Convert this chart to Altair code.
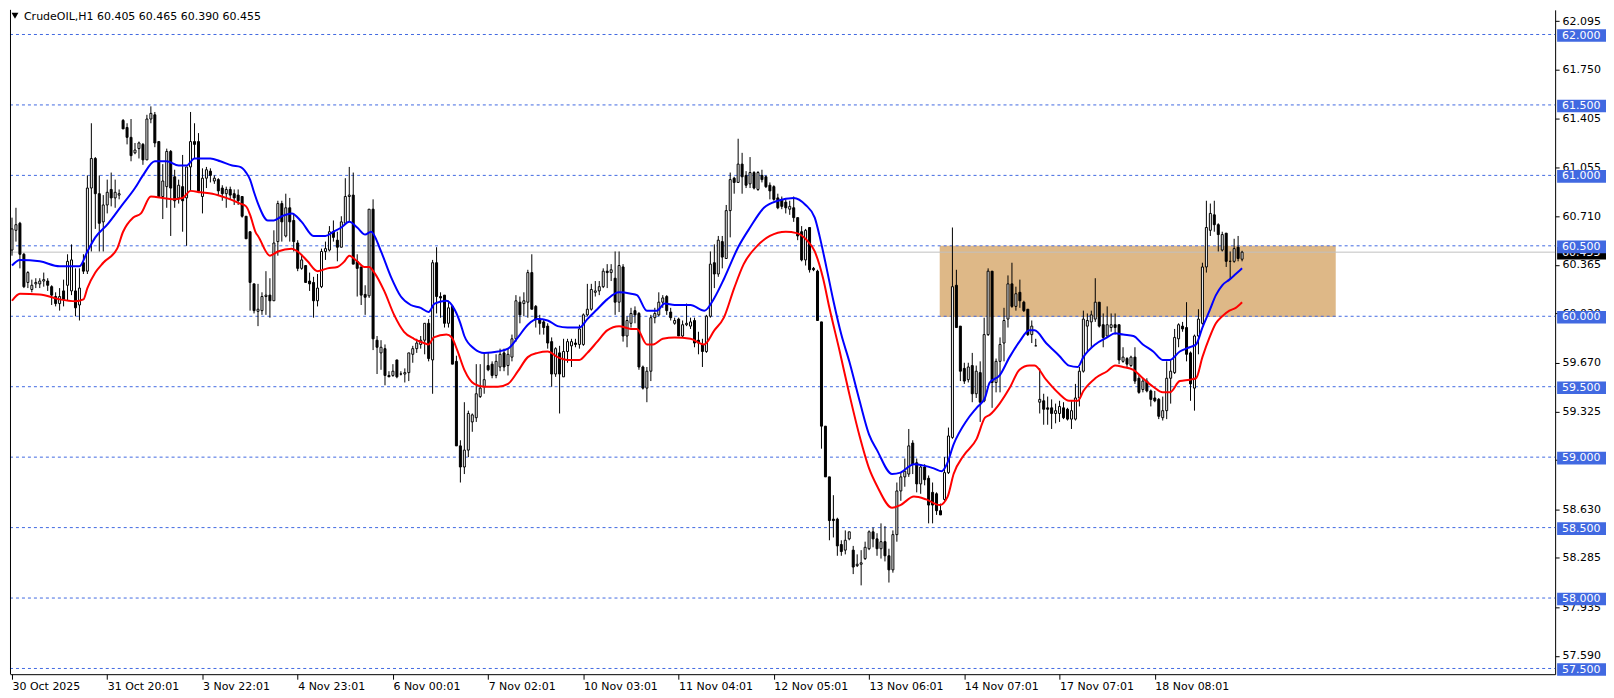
import altair as alt
import pandas as pd

# ---------------- data ----------------
OPEN = [
    60.47, 60.61, 60.66, 60.44, 60.24, 60.19, 60.23, 60.23, 60.25, 60.25,
    60.21, 60.14, 60.09, 60.18, 60.22, 60.18, 60.18, 60.08, 60.38, 60.32,
    60.91, 61.12, 60.87, 60.67, 60.79, 60.90, 60.84, 60.86, 61.39, 61.34,
    61.27, 61.16, 61.19, 61.22, 61.11, 61.40, 61.43, 61.24, 60.85, 60.92,
    61.17, 60.99, 60.84, 60.92, 60.84, 61.06, 61.24, 61.24, 60.85, 60.98,
    61.03, 60.96, 60.97, 60.91, 60.87, 60.90, 60.87, 60.86, 60.85, 60.71,
    60.60, 60.23, 60.035, 60.04, 60.14, 60.15, 60.11, 60.53, 60.80, 60.57,
    60.77, 60.68, 60.52, 60.34, 60.36, 60.25, 60.24, 60.11, 60.21, 60.46,
    60.47, 60.60, 60.54, 60.49, 60.66, 60.85, 60.86, 60.39, 60.35, 60.155,
    60.145, 60.76, 59.83, 59.74, 59.77, 59.58, 59.58, 59.69, 59.59, 59.59,
    59.60, 59.73, 59.77, 59.80, 59.83, 59.95, 59.69, 60.38, 60.14, 60.15,
    59.95, 60.07, 59.68, 59.08, 58.93, 59.05, 59.25, 59.28, 59.43, 59.50,
    59.65, 59.66, 59.58, 59.64, 59.74, 59.65, 59.71, 59.84, 60.10, 60.09,
    60.10, 60.31, 60.07, 59.98, 59.96, 59.93, 59.82, 59.59, 59.74, 59.57,
    59.75, 59.79, 59.81, 59.80, 59.80, 60.01, 60.05, 60.17, 60.18, 60.21,
    60.32, 60.31, 60.27, 60.10, 60.35, 59.86, 59.95, 60.04, 60.02, 59.64,
    59.49, 59.61, 59.99, 60.01, 60.10, 60.14, 60.03, 59.95, 59.98, 59.86,
    59.94, 59.93, 59.97, 59.83, 59.80, 59.75, 60.00, 60.38, 60.30, 60.53,
    60.41, 60.75, 60.98, 60.95, 61.08, 61.00, 60.94, 61.02, 60.90, 61.00,
    60.99, 60.93, 60.92, 60.84, 60.83, 60.81, 60.76, 60.77, 60.70, 60.60,
    60.40, 60.63, 60.34, 60.32, 59.96, 59.22, 58.86, 58.56, 58.56, 58.38,
    58.34, 58.42, 58.34, 58.23, 58.24, 58.28, 58.35, 58.47, 58.42, 58.35,
    58.40, 58.30, 58.20, 58.45, 58.76, 58.86, 58.88, 59.10, 58.96, 58.81,
    58.93, 58.85, 58.75, 58.74, 58.62, 58.70, 58.89, 59.14, 60.22, 59.93,
    59.63, 59.55, 59.65, 59.45, 59.60, 59.40, 59.87, 60.32, 59.53, 59.68,
    59.81, 59.98, 60.23, 60.07, 60.17, 60.10, 60.05, 59.87, 59.79, 59.39,
    59.40, 59.35, 59.35, 59.31, 59.31, 59.35, 59.34, 59.27, 59.27, 59.42,
    59.61, 59.93, 59.96, 59.98, 60.10, 59.94, 59.86, 59.92, 59.94, 59.94,
    59.68, 59.70, 59.65, 59.71, 59.56, 59.48, 59.54, 59.47, 59.42, 59.41,
    59.28, 59.33, 59.56, 59.60, 59.84, 59.93, 59.92, 59.74, 59.49, 59.86,
    59.95, 60.35, 60.61, 60.72, 60.65, 60.47, 60.59, 60.39, 60.39, 60.49,
    60.405,
]
HIGH = [
    60.70, 60.77, 60.67, 60.45, 60.32, 60.26, 60.27, 60.27, 60.31, 60.27,
    60.22, 60.17, 60.20, 60.26, 60.44, 60.51, 60.34, 60.34, 60.44, 61.00,
    61.37, 61.13, 61.00, 60.86, 60.97, 61.02, 60.97, 60.90, 61.40, 61.37,
    61.40, 61.23, 61.24, 61.23, 61.43, 61.49, 61.45, 61.24, 61.08, 61.19,
    61.18, 61.04, 60.97, 61.145, 61.06, 61.45, 61.37, 61.30, 61.05, 61.06,
    61.05, 61.00, 60.98, 60.93, 60.92, 60.92, 60.90, 60.90, 60.85, 60.71,
    60.60, 60.23, 60.23, 60.17, 60.32, 60.27, 60.61, 60.82, 60.82, 60.87,
    60.84, 60.73, 60.54, 60.44, 60.36, 60.31, 60.28, 60.30, 60.48, 60.53,
    60.64, 60.68, 60.60, 60.71, 60.98, 61.06, 61.02, 60.44, 60.35, 60.22,
    60.76, 60.83, 59.86, 59.83, 59.80, 59.61, 59.66, 59.69, 59.61, 59.63,
    59.74, 59.79, 59.84, 59.86, 59.95, 59.98, 60.40, 60.49, 60.17, 60.15,
    60.11, 60.07, 59.72, 59.12, 59.39, 59.33, 59.31, 59.66, 59.66, 59.74,
    59.74, 59.68, 59.73, 59.77, 59.77, 59.77, 59.87, 60.15, 60.14, 60.17,
    60.33, 60.44, 60.08, 60.01, 59.98, 59.95, 59.85, 59.78, 59.79, 59.84,
    59.84, 59.84, 59.84, 59.94, 60.02, 60.23, 60.23, 60.25, 60.25, 60.34,
    60.37, 60.37, 60.46, 60.46, 60.37, 60.00, 60.06, 60.07, 60.03, 59.65,
    59.64, 60.01, 60.06, 60.17, 60.15, 60.15, 60.06, 59.99, 59.99, 59.97,
    60.09, 59.99, 59.99, 59.89, 59.84, 60.01, 60.46, 60.51, 60.57, 60.57,
    60.79, 61.02, 60.99, 61.26, 61.16, 61.03, 61.13, 61.03, 61.03, 61.04,
    61.00, 60.95, 60.93, 60.87, 60.85, 60.83, 60.82, 60.85, 60.70, 60.64,
    60.62, 60.63, 60.35, 60.33, 59.96, 59.22, 58.86, 58.73, 58.57, 58.41,
    58.48, 58.47, 58.37, 58.31, 58.34, 58.40, 58.48, 58.50, 58.46, 58.53,
    58.51, 58.35, 58.48, 58.82, 58.89, 58.99, 59.20, 59.12, 58.99, 58.95,
    58.95, 58.87, 58.82, 58.75, 58.67, 59.00, 59.21, 60.63, 60.33, 59.93,
    59.67, 59.67, 59.74, 59.65, 59.68, 59.99, 60.34, 60.32, 59.70, 59.85,
    60.06, 60.29, 60.38, 60.21, 60.26, 60.11, 60.05, 59.97, 59.84, 59.63,
    59.45, 59.43, 59.41, 59.38, 59.40, 59.39, 59.35, 59.40, 59.52, 59.64,
    60.04, 60.02, 60.04, 60.27, 60.10, 60.02, 60.07, 60.02, 60.02, 59.94,
    59.78, 59.71, 59.72, 59.78, 59.59, 59.56, 59.56, 59.48, 59.47, 59.42,
    59.43, 59.68, 59.69, 59.91, 59.95, 59.96, 60.10, 59.75, 59.87, 60.05,
    60.38, 60.82, 60.80, 60.82, 60.66, 60.60, 60.59, 60.46, 60.55, 60.57,
    60.465,
]
LOW = [
    60.43, 60.53, 60.34, 60.20, 60.20, 60.17, 60.20, 60.20, 60.21, 60.18,
    60.08, 60.07, 60.04, 60.07, 60.11, 60.15, 60.00, 59.97, 60.30, 60.30,
    60.46, 60.62, 60.46, 60.46, 60.73, 60.78, 60.77, 60.83, 61.33, 61.22,
    61.10, 61.15, 61.12, 61.075, 61.11, 61.37, 61.20, 60.85, 60.69, 60.77,
    60.57, 60.77, 60.80, 60.60, 60.50, 60.89, 61.12, 60.89, 60.73, 60.91,
    60.95, 60.94, 60.86, 60.82, 60.77, 60.83, 60.79, 60.79, 60.70, 60.55,
    60.04, 60.02, 59.93, 60.01, 60.01, 59.99, 60.11, 60.43, 60.53, 60.56,
    60.53, 60.46, 60.32, 60.33, 60.24, 60.18, 59.99, 60.07, 60.20, 60.40,
    60.46, 60.53, 60.39, 60.49, 60.66, 60.67, 60.37, 60.14, 60.08, 60.01,
    60.13, 59.76, 59.59, 59.62, 59.51, 59.57, 59.57, 59.56, 59.58, 59.53,
    59.54, 59.67, 59.74, 59.77, 59.73, 59.68, 59.45, 60.02, 59.99, 59.92,
    59.92, 59.66, 59.08, 58.82, 58.88, 59.00, 59.18, 59.25, 59.42, 59.45,
    59.61, 59.56, 59.56, 59.61, 59.61, 59.58, 59.68, 59.82, 59.95, 60.00,
    59.99, 60.05, 59.92, 59.87, 59.87, 59.77, 59.50, 59.57, 59.31, 59.57,
    59.67, 59.64, 59.78, 59.77, 59.79, 60.00, 60.04, 60.14, 60.15, 60.20,
    60.20, 60.25, 60.01, 60.03, 59.82, 59.78, 59.92, 59.95, 59.62, 59.48,
    59.39, 59.54, 59.95, 60.00, 60.06, 60.01, 59.97, 59.94, 59.86, 59.85,
    59.93, 59.91, 59.78, 59.73, 59.64, 59.74, 59.99, 60.20, 60.28, 60.34,
    60.41, 60.56, 60.87, 60.95, 60.87, 60.91, 60.91, 60.90, 60.89, 60.95,
    60.91, 60.83, 60.82, 60.76, 60.76, 60.73, 60.72, 60.67, 60.54, 60.39,
    60.36, 60.31, 60.32, 59.97, 59.06, 58.86, 58.41, 58.43, 58.30, 58.30,
    58.31, 58.41, 58.17, 58.22, 58.09, 58.27, 58.34, 58.36, 58.30, 58.28,
    58.26, 58.11, 58.18, 58.40, 58.69, 58.79, 58.86, 58.88, 58.75, 58.74,
    58.80, 58.53, 58.53, 58.59, 58.59, 58.69, 58.88, 59.13, 59.92, 59.54,
    59.52, 59.53, 59.39, 59.42, 59.25, 59.39, 59.86, 59.35, 59.46, 59.46,
    59.68, 59.92, 60.06, 60.04, 60.06, 60.03, 59.86, 59.81, 59.79, 59.31,
    59.23, 59.23, 59.20, 59.24, 59.25, 59.27, 59.26, 59.20, 59.26, 59.36,
    59.60, 59.75, 59.78, 59.96, 59.92, 59.78, 59.85, 59.89, 59.87, 59.66,
    59.67, 59.64, 59.64, 59.52, 59.45, 59.46, 59.46, 59.36, 59.39, 59.27,
    59.26, 59.27, 59.38, 59.59, 59.78, 59.89, 59.68, 59.40, 59.33, 59.73,
    59.94, 60.31, 60.57, 60.60, 60.46, 60.46, 60.35, 60.26, 60.38, 60.39,
    60.39,
]
CLOSE = [
    60.62, 60.65, 60.44, 60.21, 60.31, 60.22, 60.24, 60.25, 60.26, 60.22,
    60.15, 60.09, 60.14, 60.12, 60.39, 60.40, 60.06, 60.20, 60.32, 60.91,
    61.12, 60.87, 60.66, 60.79, 60.88, 60.84, 60.88, 60.87, 61.33, 61.27,
    61.14, 61.18, 61.23, 61.11, 61.40, 61.44, 61.23, 60.85, 60.96, 61.17,
    60.91, 60.82, 60.93, 60.82, 61.06, 61.24, 61.22, 60.89, 60.98, 61.04,
    61.00, 60.98, 60.89, 60.87, 60.90, 60.86, 60.84, 60.82, 60.71, 60.55,
    60.24, 60.04, 60.05, 60.14, 60.15, 60.11, 60.52, 60.80, 60.67, 60.77,
    60.67, 60.53, 60.34, 60.40, 60.24, 60.23, 60.11, 60.20, 60.46, 60.48,
    60.60, 60.56, 60.49, 60.67, 60.85, 60.86, 60.37, 60.34, 60.15, 60.135,
    60.76, 59.84, 59.78, 59.78, 59.58, 59.57, 59.61, 59.57, 59.59, 59.60,
    59.74, 59.77, 59.81, 59.83, 59.95, 59.70, 60.38, 60.14, 60.13, 59.95,
    60.06, 59.66, 59.08, 58.93, 59.05, 59.31, 59.30, 59.45, 59.49, 59.55,
    59.62, 59.58, 59.68, 59.73, 59.64, 59.73, 59.84, 60.11, 60.01, 60.11,
    60.31, 60.05, 59.98, 59.95, 59.92, 59.81, 59.59, 59.77, 59.59, 59.75,
    59.82, 59.82, 59.80, 59.91, 60.01, 60.05, 60.19, 60.18, 60.21, 60.32,
    60.31, 60.33, 60.10, 60.36, 59.86, 59.97, 60.02, 60.01, 59.64, 59.49,
    59.61, 59.99, 60.02, 60.10, 60.13, 60.04, 59.99, 59.97, 59.86, 59.94,
    59.95, 59.96, 59.81, 59.81, 59.75, 60.00, 60.37, 60.30, 60.54, 60.42,
    60.75, 60.97, 60.95, 61.08, 60.99, 60.93, 61.02, 60.91, 61.02, 60.97,
    60.92, 60.89, 60.83, 60.77, 60.78, 60.77, 60.78, 60.70, 60.57, 60.40,
    60.61, 60.33, 60.33, 59.97, 59.22, 58.86, 58.55, 58.55, 58.37, 58.33,
    58.41, 58.47, 58.22, 58.24, 58.25, 58.36, 58.47, 58.42, 58.35, 58.40,
    58.30, 58.20, 58.45, 58.76, 58.86, 58.90, 59.08, 58.95, 58.81, 58.93,
    58.84, 58.66, 58.66, 58.62, 58.59, 58.89, 59.15, 60.21, 59.92, 59.61,
    59.54, 59.64, 59.45, 59.61, 59.39, 59.87, 60.32, 59.53, 59.68, 59.80,
    59.97, 60.23, 60.07, 60.16, 60.11, 60.04, 59.87, 59.93, 59.79, 59.41,
    59.34, 59.34, 59.31, 59.33, 59.36, 59.28, 59.27, 59.33, 59.42, 59.61,
    59.98, 59.97, 60.01, 60.10, 59.93, 59.85, 59.94, 59.94, 59.92, 59.69,
    59.71, 59.66, 59.71, 59.54, 59.46, 59.54, 59.47, 59.41, 59.40, 59.29,
    59.33, 59.56, 59.61, 59.85, 59.94, 59.91, 59.73, 59.52, 59.86, 59.98,
    60.35, 60.63, 60.73, 60.65, 60.58, 60.58, 60.39, 60.39, 60.48, 60.41,
    60.455,
]

BLUE_BAR = [0, 2, 7, 12, 17, 19, 21, 24, 27.5, 31, 33, 36, 39, 42, 44, 46, 50, 52.5, 55.5, 57.5,
            59, 60, 61, 62, 64.5, 66, 68, 70.5, 73, 76, 79, 81, 83, 85, 87, 89, 90.5, 93, 95.5, 98,
            100.5, 103, 105, 106.5, 109.5, 111.5, 113, 114, 116.5, 119, 122.5, 125, 127.5, 130, 132.5,
            135, 137.5, 140, 143, 145, 147.5, 150, 153, 156, 157.5, 160, 162.5, 164.5, 167, 171, 174.5,
            177, 179.5, 183, 186, 189.5, 193, 197, 200, 202.3, 203.6, 205.3, 207, 209, 211, 213.6, 216,
            218, 221.8, 223.9, 227.3, 229.8, 232.3, 234.3, 235.6, 237.3, 240.6, 243.1, 245.2, 246.4,
            248.9, 251.4, 253.9, 256.4, 257.7, 260.6, 263.9, 266.4, 268.6, 270, 273, 276, 278, 280,
            282.6, 285, 287.6, 290, 291.8, 294.3, 296.8, 298.4, 300, 301.8, 303.4, 305, 306.8, 308.4, 310]
BLUE_VAL = [60.36, 60.40, 60.39, 60.355, 60.355, 60.46, 60.56, 60.65, 60.78, 60.91, 61.00, 61.10, 61.10,
            61.07, 61.07, 61.12, 61.12, 61.10, 61.07, 61.06, 61.02, 60.97, 60.88, 60.80, 60.68, 60.68,
            60.71, 60.73, 60.67, 60.57, 60.57, 60.60, 60.63, 60.67, 60.63, 60.58, 60.60, 60.46, 60.28,
            60.14, 60.08, 60.06, 60.03, 60.09, 60.11, 60.05, 59.95, 59.86, 59.77, 59.74, 59.75, 59.77,
            59.85, 59.94, 59.98, 59.97, 59.93, 59.92, 59.92, 59.98, 60.05, 60.12, 60.17, 60.16, 60.15,
            60.04, 60.04, 60.09, 60.08, 60.08, 60.04, 60.13, 60.27, 60.49, 60.63, 60.77, 60.82, 60.84,
            60.79, 60.70, 60.56, 60.34, 60.11, 59.87, 59.68, 59.40, 59.16, 59.05, 58.88, 58.89, 58.95,
            58.94, 58.92, 58.90, 58.95, 59.09, 59.26, 59.35, 59.42, 59.53, 59.58, 59.71, 59.82, 59.90,
            59.90, 59.81, 59.72, 59.65, 59.64, 59.71, 59.80, 59.85, 59.88, 59.87, 59.86, 59.80, 59.75,
            59.69, 59.69, 59.75, 59.78, 59.80, 59.92, 60.04, 60.15, 60.22, 60.26, 60.30, 60.34]

RED_BAR = [0, 2, 7, 12, 16, 18, 19, 21, 23, 26.5, 28, 30.5, 32.5, 35, 38, 40.5, 43, 45, 47.5, 50.5,
           54, 57.5, 59, 60, 61.5, 62, 65, 67, 70.5, 72, 74.5, 77, 79.5, 82, 83.8, 85, 87, 88.8, 90,
           91.3, 93.8, 96.3, 98.8, 101.3, 103.8, 105, 106.3, 109.5, 110.8, 112.2, 114, 116.5, 119,
           122.5, 125, 127.5, 130, 132.5, 135, 137.5, 140, 143, 145, 147.5, 150, 153, 156, 157.5, 160,
           161.6, 164, 167, 171, 174.4, 177, 179.4, 182, 184.4, 187.8, 191, 195, 197.8, 200.3, 202.3,
           204.4, 206, 208.6, 211, 213.6, 216, 218.1, 221.8, 223.9, 227.3, 230.4, 233.8, 235.8, 237.3,
           239.8, 243.1, 245.2, 246.4, 248.9, 251.4, 253.9, 256.4, 257.7, 260.6, 263.9, 266.4, 268.6,
           270, 273, 276, 278, 280, 282.6, 285, 287.6, 290, 291.8, 294.3, 296.8, 298.4, 300, 301.8,
           303.4, 305, 306.8, 308.4, 310]
RED_VAL = [60.11, 60.16, 60.155, 60.12, 60.107, 60.12, 60.20, 60.31, 60.38, 60.48, 60.60, 60.70, 60.73,
           60.85, 60.84, 60.83, 60.84, 60.89, 60.88, 60.87, 60.84, 60.80, 60.78, 60.72, 60.59, 60.57,
           60.43, 60.46, 60.48, 60.46, 60.39, 60.32, 60.34, 60.35, 60.39, 60.43, 60.39, 60.35, 60.35,
           60.31, 60.18, 60.01, 59.89, 59.84, 59.81, 59.80, 59.85, 59.87, 59.85, 59.76, 59.62, 59.52,
           59.50, 59.50, 59.52, 59.61, 59.71, 59.74, 59.75, 59.71, 59.69, 59.69, 59.74, 59.82, 59.90,
           59.93, 59.91, 59.91, 59.80, 59.80, 59.84, 59.85, 59.84, 59.80, 59.90, 59.99, 60.20, 60.37,
           60.50, 60.57, 60.60, 60.59, 60.54, 60.46, 60.27, 60.06, 59.75, 59.45, 59.15, 58.92, 58.79,
           58.64, 58.66, 58.72, 58.70, 58.66, 58.72, 58.88, 59.01, 59.13, 59.28, 59.30, 59.38, 59.49,
           59.62, 59.65, 59.65, 59.55, 59.45, 59.40, 59.40, 59.47, 59.56, 59.61, 59.65, 59.64, 59.62,
           59.56, 59.50, 59.46, 59.46, 59.54, 59.55, 59.56, 59.71, 59.85, 59.95, 60.00, 60.04, 60.06,
           60.10]

TICK_BARS = [0, 24, 48, 72, 96, 120, 144, 168, 192, 216, 240, 264, 288]
TICK_LABELS = ["30 Oct 2025", "31 Oct 20:01", "3 Nov 22:01", "4 Nov 23:01", "6 Nov 00:01",
               "7 Nov 02:01", "10 Nov 03:01", "11 Nov 04:01", "12 Nov 05:01", "13 Nov 06:01",
               "14 Nov 07:01", "17 Nov 07:01", "18 Nov 08:01"]
PRICE_TICKS = [62.095, 61.750, 61.405, 61.055, 60.710, 60.365, 60.020, 59.670, 59.325,
               58.980, 58.630, 58.285, 57.935, 57.590]
LEVELS = [62.0, 61.5, 61.0, 60.5, 60.0, 59.5, 59.0, 58.5, 58.0, 57.5]
LAST_PRICE = [60.455]
ZONE_BARS = [233.8, 333.6]
ZONE_PRICES = [59.995, 60.5]
TITLE = "CrudeOIL,H1  60.405 60.465 60.390 60.455"

# ---------------- layout ----------------
W, H = 1549, 666
FONT = "DejaVu Sans"
BLUE_LBL = "#4169E1"

XS = alt.Scale(domain=[-0.5028, 388.89], nice=False, zero=False)
YS = alt.Scale(domain=[57.4595, 62.1749], nice=False, zero=False)

label_list = "[" + ",".join("'" + s + "'" for s in TICK_LABELS) + "]"
bar_list = "[" + ",".join(str(b) for b in TICK_BARS) + "]"
XAXIS = alt.Axis(values=TICK_BARS, labelExpr=f"{label_list}[indexof({bar_list}, datum.value)]",
                 grid=False, domainColor="black", tickColor="black", tickSize=5,
                 labelAlign="left", labelBaseline="top", labelPadding=1, labelFont=FONT,
                 labelFontSize=11, labelColor="black", labelOverlap=False, labelFlush=False,
                 orient="bottom", title=None)
YAXIS = alt.Axis(values=PRICE_TICKS, labelExpr="format(datum.value, '.3f')", orient="right",
                 grid=False, domainColor="black", tickColor="black", tickSize=4, labelPadding=3,
                 labelFont=FONT, labelFontSize=11, labelColor="black", labelOverlap=False,
                 labelFlush=False, title=None)


def xq(f):
    return alt.X(f"{f}:Q", scale=XS, axis=XAXIS, title=None)


def yq(f):
    return alt.Y(f"{f}:Q", scale=YS, axis=YAXIS, title=None)


candles = pd.DataFrame({"bar": list(range(len(OPEN))), "open": OPEN, "high": HIGH,
                        "low": LOW, "close": CLOSE})
base = alt.Chart(candles).transform_calculate(
    top="max(datum.open, datum.close)", bot="min(datum.open, datum.close)",
    hi="max(datum.high, datum.open, datum.close)", lo="min(datum.low, datum.open, datum.close)",
    b0="datum.bar - 0.25", b1="datum.bar + 0.25")

wicks = base.mark_rule(color="black", strokeWidth=1).encode(x=xq("bar"), y=yq("lo"), y2="hi:Q")
bodies = base.mark_rect(stroke="black", strokeWidth=1).encode(
    x=xq("b0"), x2="b1:Q", y=yq("bot"), y2="top:Q",
    fill=alt.condition("datum.close > datum.open", alt.value("white"), alt.value("black")))

zone_df = pd.DataFrame({"b0": [ZONE_BARS[0]], "b1": [ZONE_BARS[1]],
                        "p0": [ZONE_PRICES[0]], "p1": [ZONE_PRICES[1]]})
zone = alt.Chart(zone_df).mark_rect(color="#DEB887").encode(
    x=xq("b0"), x2="b1:Q", y=yq("p0"), y2="p1:Q")

last_df = pd.DataFrame({"level": LAST_PRICE})
levels_df = pd.DataFrame({"level": LEVELS})

last_line = alt.Chart(last_df).mark_rule(color="#C0C0C0", strokeWidth=1).encode(
    y=yq("level"), x=alt.value(0), x2=alt.value(W))
level_lines = alt.Chart(levels_df).mark_rule(color=BLUE_LBL, strokeWidth=1, strokeDash=[3, 3]).encode(
    y=yq("level"), x=alt.value(0), x2=alt.value(W))

blue = alt.Chart(pd.DataFrame({"bar": BLUE_BAR, "v": BLUE_VAL})).mark_line(
    color="#0000FF", strokeWidth=2, interpolate="monotone").encode(x=xq("bar"), y=yq("v"))
red = alt.Chart(pd.DataFrame({"bar": RED_BAR, "v": RED_VAL})).mark_line(
    color="#FF0000", strokeWidth=2, interpolate="monotone").encode(x=xq("bar"), y=yq("v"))


def boxes(df, color):
    b = alt.Chart(df).transform_calculate(
        lo="datum.level - 0.052", hi="datum.level + 0.0375",
        mid="datum.level - 0.0073", label="format(datum.level, '.3f')")
    r = b.mark_rect(color=color).encode(x=alt.value(W + 2), x2=alt.value(W + 51),
                                         y=yq("lo"), y2="hi:Q")
    t = b.mark_text(align="left", baseline="middle", color="white", font=FONT, fontSize=11).encode(
        x=alt.value(W + 7), y=yq("mid"), text="label:N")
    return [r, t]


one = pd.DataFrame({"t": [TITLE]})
border = alt.Chart(one).mark_rule(color="black", strokeWidth=1).encode(
    x=alt.value(0.5), y=alt.value(0), y2=alt.value(H))
tri = alt.Chart(one).mark_point(shape="triangle-down", filled=True, color="black", size=48,
                                opacity=1).encode(x=alt.value(5), y=alt.value(6))
title = alt.Chart(one).mark_text(align="left", baseline="middle", font=FONT, fontSize=11,
                                 color="black").encode(x=alt.value(14), y=alt.value(7), text="t:N")

layers = [zone, last_line, level_lines, wicks, bodies, blue, red]
layers += boxes(last_df, "black")
layers += boxes(levels_df, BLUE_LBL)
layers += [border, tri, title]

chart = alt.layer(*layers).properties(
    width=W, height=H, padding=0, background="white"
).configure_view(stroke=None)

chart.save("out.html", embed_options={"renderer": "svg", "actions": False})
